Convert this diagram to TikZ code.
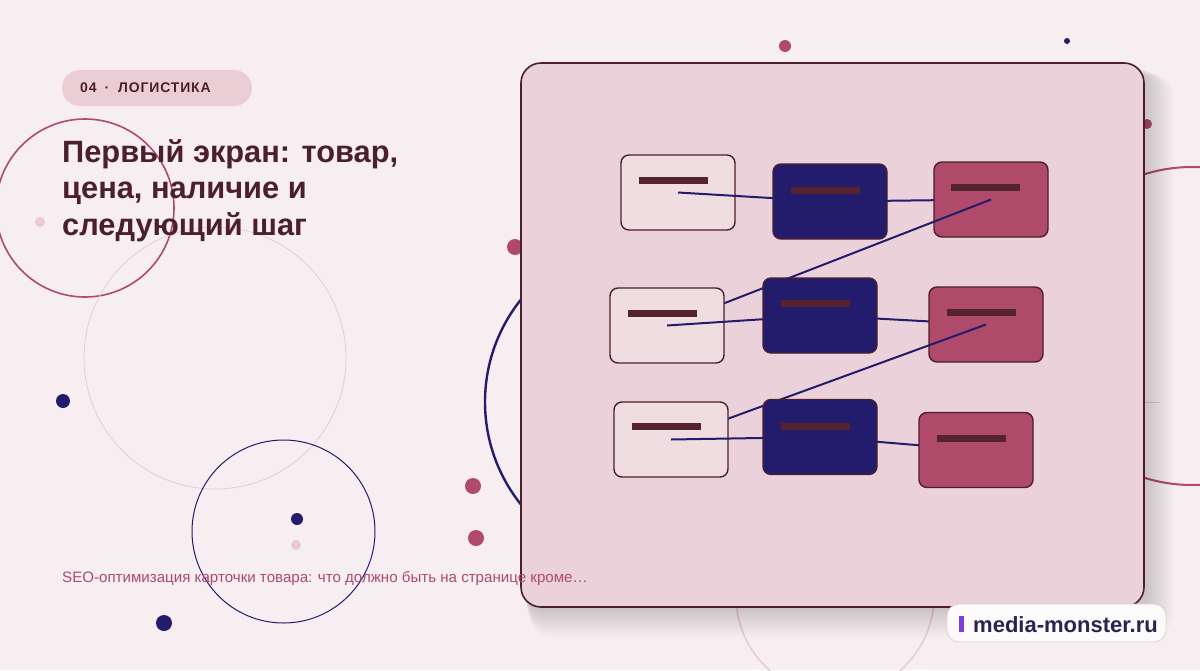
\documentclass[tikz,border=0pt]{standalone}
\usepackage{fontspec}
\setmainfont{Liberation Sans}
\usetikzlibrary{calc}
\definecolor{bg}{HTML}{F6EEF0}
\definecolor{panelc}{HTML}{EBD1D9}
\definecolor{darkc}{HTML}{4B1F2C}
\definecolor{crim}{HTML}{B04A6B}
\definecolor{navyc}{HTML}{231C6C}
\definecolor{lpink}{HTML}{E9CAD2}
\definecolor{boxlight}{HTML}{F0DDE2}
\definecolor{tagc}{HTML}{EBCDD5}
\definecolor{faint}{HTML}{E6CCD2}
\definecolor{logoc}{HTML}{2A2550}
\definecolor{purp}{HTML}{7B3FE4}
\definecolor{barc}{HTML}{55222F}
\tikzset{
  card/.style={draw=darkc,line width=1.4pt,rounded corners=8pt,minimum width=114pt,minimum height=75pt,inner sep=0pt},
  cardlight/.style={card,fill=boxlight},
  cardnavy/.style={card,fill=navyc},
  cardcrim/.style={card,fill=crim},
  bar/.style={fill=barc,draw=none,minimum width=69pt,minimum height=7pt,inner sep=0pt},
  link/.style={draw=navyc,line width=2pt},
  titletext/.style={anchor=base west,inner sep=0pt,text=darkc,font=\fontsize{30.8}{36.5}\selectfont\bfseries},
  tagtext/.style={anchor=base west,inner sep=0pt,text=darkc,font=\fontsize{14}{16}\selectfont\bfseries\addfontfeatures{LetterSpace=6}},
}
\begin{document}
\begin{tikzpicture}[x=1pt,y=-1pt]
\useasboundingbox (0,0) rectangle (1200,670);
\fill[bg] (0,0) rectangle (1200,670);
% background circles
\draw[crim,line width=1.6pt] (85,208) circle (89);
\draw[faint,line width=0.8pt] (215,358) circle (131);
\draw[navyc,line width=1pt] (283.5,531.5) circle (91.5);
\draw[navyc,line width=2.4pt] (649,402) circle (164);
\draw[crim,line width=2pt] (1192,326) circle (159);
\draw[faint,line width=1.5pt] (835,596) circle (99);
\draw[faint,line width=0.6pt] (1140,402) -- (1160,402);
% dots
\fill[crim] (785,46) circle (6);
\fill[navyc] (1067,41) circle (3);
\fill[crim] (1147,124) circle (5);
\fill[crim] (515,247) circle (8);
\fill[crim] (473,486) circle (8);
\fill[crim] (476,538) circle (8);
\fill[lpink] (40,222) circle (5);
\fill[navyc] (63,401) circle (7);
\fill[navyc] (297,519) circle (6);
\fill[lpink] (296,545) circle (5);
\fill[navyc] (164,623) circle (8);
% panel shadow (soft)
\foreach \o in {2,4,...,30}{
  \fill[black,opacity=0.012,rounded corners=22pt] (521+\o*0.3,63+\o*0.4) rectangle (1144+\o,607+\o);
}
% panel
\node[draw=darkc,line width=1.6pt,fill=panelc,rounded corners=20pt,minimum width=623pt,minimum height=544pt,inner sep=0pt] (panel) at (832.5,335) {};
% cards and links in drawing order
\node[cardlight] (a1) at (678,192.5) {};
\draw[link] (a1.center) -- (830,201.5);
\node[cardnavy] (b1) at (830,201.5) {};
\draw[link] (b1.center) -- (991,199.5);
\node[cardcrim] (c1) at (991,199.5) {};
\draw[link] (c1.center) -- (667,325.5);
\node[cardlight] (a2) at (667,325.5) {};
\draw[link] (a2.center) -- (820,315.5);
\node[cardnavy] (b2) at (820,315.5) {};
\draw[link] (b2.center) -- (986,324.5);
\node[cardcrim] (c2) at (986,324.5) {};
\draw[link] (c2.center) -- (671,439.5);
\node[cardlight] (a3) at (671,439.5) {};
\draw[link] (a3.center) -- (820,437);
\node[cardnavy] (b3) at (820,437) {};
\draw[link] (b3.center) -- (976,450);
\node[cardcrim] (c3) at (976,450) {};
% bars
\node[bar] (a1b) at (673,180.5) {};
\node[bar] (b1b) at (825.5,190) {};
\node[bar] (c1b) at (985.5,187.5) {};
\node[bar] (a2b) at (662.5,313.5) {};
\node[bar] (b2b) at (815.5,303.5) {};
\node[bar] (c2b) at (981.5,312.5) {};
\node[bar] (a3b) at (666,426.5) {};
\node[bar] (b3b) at (815.5,426) {};
\node[bar] (c3b) at (971.5,438.5) {};
% tag pill
\node[fill=tagc,rounded corners=18pt,minimum width=190pt,minimum height=36pt,inner sep=0pt] (tag) at (157,88) {};
\node[tagtext] (tagn) at (80,92) {04};
\node[tagtext] (tagd) at (104.5,92) {·};
\node[tagtext] (tagt) at (118,92) {ЛОГИСТИКА};
% title
\node[titletext] (t1) at (62,162) {Первый экран: товар,};
\node[titletext] (t2) at (62,198.5) {цена, наличие и};
\node[titletext] (t3) at (62,235) {следующий шаг};
% subtitle
\node[anchor=base west,inner sep=0pt,text=crim,font=\fontsize{15.1}{17}\selectfont] (sub) at (62,582) {SEO-оптимизация карточки товара: что должно быть на странице кроме…};
% logo
\node[draw=faint,line width=0.8pt,fill=white!70!bg,rounded corners=12pt,minimum width=219pt,minimum height=38pt,inner sep=0pt] (logo) at (1056.5,623) {};
\fill[purp] (959,616) rectangle (964,632);
\node[anchor=base west,inner sep=0pt,text=logoc,font=\fontsize{22}{24}\selectfont\bfseries] (logot) at (973,632) {media-monster.ru};
\end{tikzpicture}
\end{document}
